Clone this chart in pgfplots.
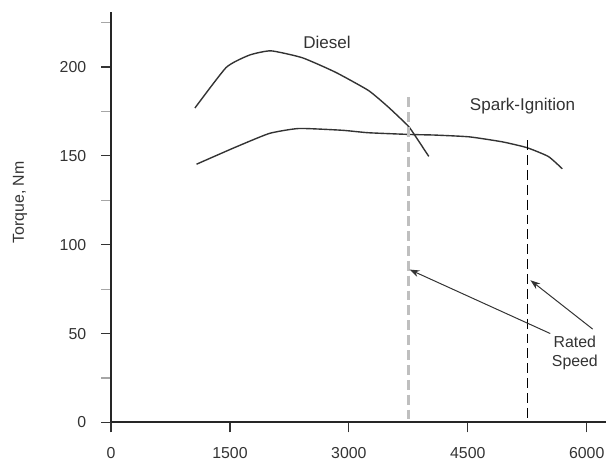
\documentclass[border=0pt]{standalone}
\usepackage{fontspec}
\setmainfont{Liberation Sans}
\usepackage{pgfplots}
\pgfplotsset{compat=1.18}
\usetikzlibrary{arrows.meta}

\pgfplotstableread{
rpm   tq
1058  176.9
1454  199.8
1746  206.7
2017  209.1
2413  205.2
2829  197.1
3246  186.8
3496  177.5
3746  166.9
3829  161.7
4008  149.7
}\diesel

\pgfplotstableread{
rpm   tq
1079  145.3
1550  154.5
1996  162.6
2371  165.4
2913  164.4
3246  163.0
3788  162.0
4079  161.7
4516  160.7
4933  157.9
5246  154.6
5517  149.6
5692  142.7
}\spark

\begin{document}
\begin{tikzpicture}
\begin{axis}[
  scale only axis, width=249.5pt, height=207pt,
  xmin=0, xmax=6240, ymin=0, ymax=231,
  axis lines=left, axis line style={-, line width=1pt, black!85},
  clip=false,
  font=\fontsize{8}{9.5}\selectfont,
  /pgf/number format/assume math mode=true,
  /pgf/number format/1000 sep={},
  xtick={0,1500,3000,4500,6000},
  ytick={0,50,100,150,200},
  minor ytick={25,75,125,175,225},
  tick align=outside,
  major tick length=5pt, minor tick length=5pt,
  tick style={black!80, line width=0.6pt},
  minor tick style={black!35, line width=0.6pt},
  ticklabel style={black!80},
  yticklabel style={xshift=-4pt},
  xticklabel style={yshift=-4pt},
  ylabel={Torque, Nm},
  ylabel style={at={(rel axis cs:-0.184,0.536)}, anchor=center, black!80},
]
\addplot[black!80, line width=0.7pt, smooth, tension=0.3] table[x=rpm,y=tq] {\diesel};
\addplot[black!80, line width=0.7pt, smooth, tension=0.3] table[x=rpm,y=tq] {\spark};

% rated speed markers
\addplot[gray!50, line width=1.4pt, dash pattern=on 5pt off 2.5pt] coordinates {(3750,183) (3750,0)};
\addplot[black, line width=0.7pt, dash pattern=on 5pt off 2.5pt] coordinates {(5250,158.8) (5250,0)};

\draw[black!80, line width=0.5pt, -{Stealth[length=5pt,width=3.5pt]}] (axis cs:5540,50) -- (axis cs:3765,86);
\draw[black!80, line width=0.5pt, -{Stealth[length=5pt,width=3.5pt]}] (axis cs:6075,52.5) -- (axis cs:5290,80);

\node[black!80, font=\fontsize{8.6}{10}\selectfont] at (axis cs:2725,214) {Diesel};
\node[black!80, font=\fontsize{8.6}{10}\selectfont] at (axis cs:5190,178) {Spark-Ignition};
\node[black!80, align=center] at (axis cs:5850,39) {Rated\\Speed};

\path (rel axis cs:-0.2244,-0.0676) rectangle (rel axis cs:1.0,1.029);
\end{axis}
\end{tikzpicture}
\end{document}
